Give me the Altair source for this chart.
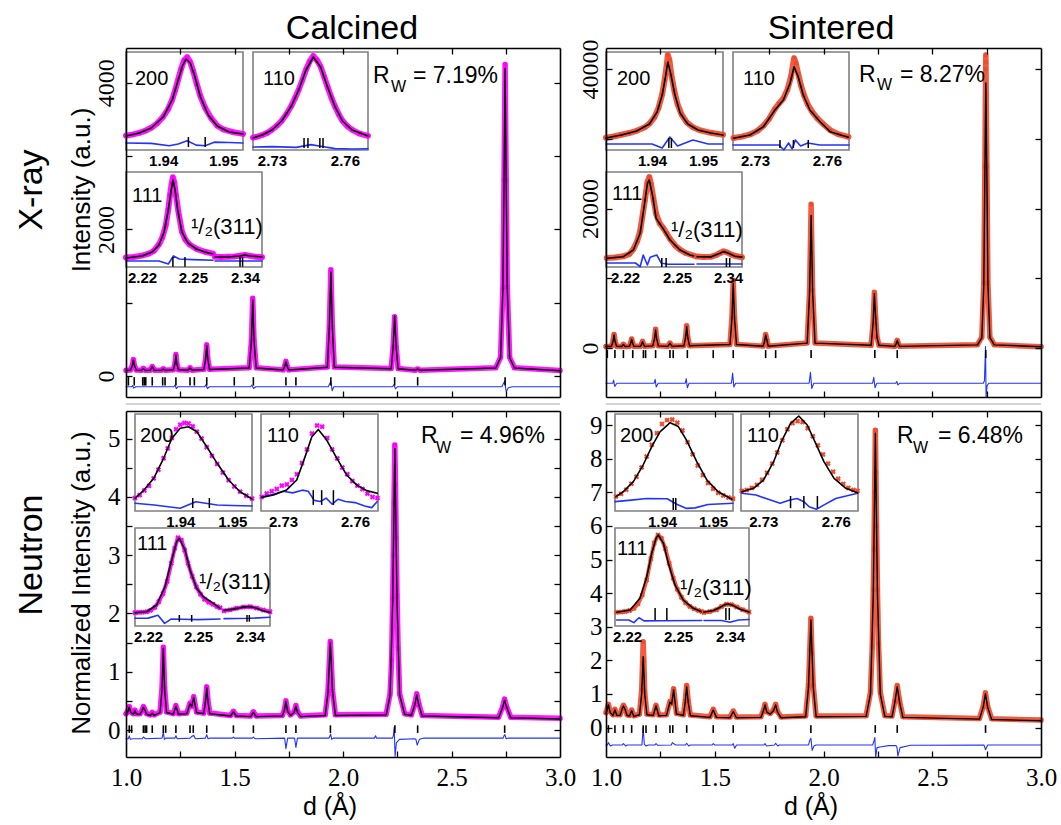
import altair as alt
import pandas as pd

W, H = 1061, 825
SANS = "Liberation Sans"
SERIF = "Liberation Serif"
MAGENTA = "#ff00ff"
ORANGE = "#f04a2c"
BLUE = "#2233ff"
FRAME_GREY = "#7f7f7f"

# ---------------------------------------------------------------------------
# Full refined patterns, pairs of (d in Angstrom, intensity)
# ---------------------------------------------------------------------------
XC_FIT = [(1.000,75),(1.020,80),(1.029,140),(1.034,218),(1.039,140),(1.048,80),(1.070,77),(1.080,100),(1.090,77),
          (1.111,78),(1.116,100),(1.121,127),(1.126,100),(1.131,78),(1.162,77),(1.172,95),(1.182,77),
          (1.218,85),(1.226,170),(1.230,286),(1.234,170),(1.242,85),(1.285,78),(1.295,109),(1.305,78),
          (1.359,90),(1.367,230),(1.372,414),(1.377,230),(1.385,90),(1.568,110),(1.578,480),(1.584,1037),
          (1.590,480),(1.600,110),(1.724,82),(1.731,130),(1.737,196),(1.743,130),(1.750,82),(1.928,120),
          (1.937,660),(1.944,1420),(1.951,660),(1.960,120),(2.222,100),(2.231,390),(2.238,820),(2.245,390),
          (2.254,100),(2.332,78),(2.344,95),(2.356,78),(2.704,110),(2.726,250),(2.737,1200),(2.742,2650),
          (2.747,4200),(2.752,2650),(2.757,1200),(2.768,250),(2.790,110),(3.000,72)]
XC_OBS = [(1.000,78),(1.020,82),(1.029,142),(1.034,225),(1.039,142),(1.048,82),(1.070,78),(1.080,104),(1.090,78),
          (1.111,80),(1.116,102),(1.121,130),(1.126,102),(1.131,80),(1.162,78),(1.172,98),(1.182,78),
          (1.218,86),(1.226,172),(1.230,295),(1.234,172),(1.242,86),(1.285,80),(1.295,112),(1.305,80),
          (1.359,92),(1.367,232),(1.372,425),(1.377,232),(1.385,92),(1.568,112),(1.578,485),(1.584,1060),
          (1.590,485),(1.600,112),(1.724,84),(1.731,132),(1.737,200),(1.743,132),(1.750,84),(1.928,122),
          (1.937,665),(1.944,1450),(1.951,665),(1.960,122),(2.222,102),(2.231,395),(2.238,810),(2.245,395),
          (2.254,102),(2.332,80),(2.344,97),(2.356,80),(2.704,112),(2.726,255),(2.737,1210),(2.742,2670),
          (2.747,4250),(2.752,2670),(2.757,1210),(2.768,255),(2.790,112),(3.000,74)]
XC_DIFF = [(1.000,-146),(1.026,-146),(1.030,-130),(1.036,-165),(1.045,-146),(1.220,-146),(1.226,-125),
           (1.232,-170),(1.240,-146),(1.362,-146),(1.368,-120),(1.375,-170),(1.385,-146),(1.574,-146),
           (1.580,-125),(1.588,-170),(1.598,-146),(1.932,-146),(1.938,-110),(1.944,-75),(1.950,-200),
           (1.958,-146),(2.228,-146),(2.234,-120),(2.242,-175),(2.250,-146),(2.732,-146),(2.738,-110),
           (2.745,-70),(2.752,-215),(2.762,-160),(2.780,-146),(3.000,-146)]
XC_REFL = [1.011, 1.038, 1.077, 1.084, 1.091, 1.121, 1.169, 1.180, 1.230, 1.295, 1.315, 1.372, 1.499,
           1.587, 1.737, 1.783, 1.944, 2.238, 2.344, 2.747]

XS_FIT = [(1.000,210),(1.025,250),(1.032,900),(1.037,1860),(1.042,900),(1.049,250),(1.072,220),(1.080,500),
          (1.088,220),(1.108,250),(1.113,650),(1.118,1243),(1.123,650),(1.128,250),(1.158,240),(1.163,500),
          (1.168,908),(1.173,500),(1.178,240),(1.215,300),(1.223,1300),(1.228,2580),(1.233,1300),(1.241,300),
          (1.284,230),(1.294,670),(1.304,230),(1.358,320),(1.366,1500),(1.371,3060),(1.376,1500),(1.384,320),
          (1.570,500),(1.579,4200),(1.585,9270),(1.591,4200),(1.600,500),(1.722,260),(1.729,900),(1.734,1860),
          (1.740,1100),(1.746,260),(1.925,700),(1.936,8000),(1.9431,19000),(1.950,8000),(1.961,700),
          (2.219,400),(2.228,3500),(2.234,7800),(2.240,4200),(2.246,1500),(2.255,400),(2.328,240),(2.334,600),
          (2.339,1050),(2.344,600),(2.350,240),(2.708,450),(2.728,1500),(2.737,9000),(2.742,25000),
          (2.7463,38000),(2.751,25000),(2.756,9000),(2.765,1500),(2.785,450),(3.000,180)]
XS_OBS = [(1.000,215),(1.025,260),(1.032,930),(1.037,1950),(1.042,930),(1.049,260),(1.072,230),(1.080,520),
          (1.088,230),(1.108,260),(1.113,670),(1.118,1300),(1.123,670),(1.128,260),(1.158,250),(1.163,520),
          (1.168,950),(1.173,520),(1.178,250),(1.215,310),(1.223,1330),(1.228,2700),(1.233,1330),(1.241,310),
          (1.284,240),(1.294,700),(1.304,240),(1.358,330),(1.366,1540),(1.371,3200),(1.376,1540),(1.384,330),
          (1.570,520),(1.579,4300),(1.585,9700),(1.591,4300),(1.600,520),(1.722,270),(1.729,930),(1.734,1950),
          (1.740,1130),(1.746,270),(1.925,720),(1.936,8200),(1.9431,20600),(1.950,8200),(1.961,720),
          (2.219,410),(2.228,3600),(2.234,8000),(2.240,4300),(2.246,1550),(2.255,410),(2.328,250),(2.334,620),
          (2.339,1090),(2.344,620),(2.350,250),(2.708,470),(2.728,1550),(2.737,9300),(2.742,26000),
          (2.7455,40000),(2.7463,42000),(2.7470,41000),(2.751,26000),(2.756,9300),(2.765,1550),(2.785,470),
          (3.000,185)]
XS_DIFF = [(1.000,-5060),(1.031,-5060),(1.035,-4600),(1.040,-5500),(1.050,-5060),(1.221,-5060),(1.226,-4500),
           (1.231,-5600),(1.240,-5060),(1.364,-5060),(1.369,-4400),(1.374,-5700),(1.382,-5060),(1.577,-5060),
           (1.582,-3600),(1.588,-5600),(1.596,-5060),(1.934,-5060),(1.940,-3500),(1.946,-5800),(1.955,-5060),
           (2.226,-5060),(2.231,-4200),(2.237,-5700),(2.245,-5060),(2.332,-5060),(2.337,-4800),(2.342,-5300),
           (2.350,-5060),(2.735,-5060),(2.740,-4700),(2.745,200),(2.7475,-7000),(2.752,-5400),(2.760,-5060),
           (3.000,-5060)]
XS_REFL = [1.006, 1.041, 1.080, 1.123, 1.172, 1.182, 1.228, 1.294, 1.309, 1.374, 1.493, 1.585, 1.734,
           1.780, 1.943, 2.236, 2.339, 2.746]

NC_FIT = [(1.000,0.27),(1.007,0.30),(1.015,0.39),(1.022,0.30),(1.034,0.27),(1.041,0.33),(1.048,0.27),
          (1.065,0.27),(1.074,0.33),(1.080,0.39),(1.086,0.35),(1.095,0.27),(1.112,0.25),(1.121,0.29),
          (1.130,0.25),(1.157,0.30),(1.166,0.70),(1.172,1.40),(1.178,0.70),(1.187,0.30),(1.218,0.27),
          (1.230,0.41),(1.242,0.27),(1.280,0.28),(1.295,0.45),(1.303,0.40),(1.312,0.56),(1.325,0.30),
          (1.358,0.28),(1.366,0.48),(1.372,0.72),(1.378,0.48),(1.386,0.28),(1.482,0.24),(1.495,0.31),
          (1.508,0.24),(1.574,0.23),(1.587,0.30),(1.600,0.23),(1.720,0.24),(1.730,0.34),(1.737,0.49),
          (1.745,0.32),(1.758,0.25),(1.775,0.30),(1.783,0.41),(1.791,0.30),(1.805,0.23),(1.918,0.25),
          (1.931,0.65),(1.9415,1.50),(1.952,0.65),(1.965,0.25),(2.199,0.26),(2.217,0.60),(2.229,2.20),
          (2.2388,4.83),(2.249,2.20),(2.261,0.60),(2.284,0.27),(2.315,0.25),(2.330,0.42),(2.340,0.60),
          (2.350,0.42),(2.365,0.24),(2.717,0.21),(2.735,0.38),(2.7447,0.51),(2.755,0.38),(2.773,0.21),
          (3.000,0.19)]
NC_OBS = [(1.000,0.28),(1.007,0.31),(1.015,0.40),(1.022,0.31),(1.034,0.28),(1.041,0.34),(1.048,0.28),
          (1.065,0.28),(1.074,0.34),(1.080,0.40),(1.086,0.36),(1.095,0.28),(1.112,0.26),(1.121,0.30),
          (1.130,0.26),(1.157,0.31),(1.166,0.72),(1.172,1.42),(1.178,0.72),(1.187,0.31),(1.218,0.28),
          (1.230,0.42),(1.242,0.28),(1.280,0.29),(1.295,0.46),(1.303,0.41),(1.312,0.57),(1.325,0.31),
          (1.358,0.29),(1.366,0.50),(1.372,0.74),(1.378,0.50),(1.386,0.29),(1.482,0.25),(1.495,0.32),
          (1.508,0.25),(1.574,0.24),(1.587,0.31),(1.600,0.24),(1.720,0.25),(1.730,0.35),(1.737,0.50),
          (1.745,0.33),(1.758,0.26),(1.775,0.31),(1.783,0.42),(1.791,0.31),(1.805,0.24),(1.918,0.26),
          (1.931,0.67),(1.9415,1.52),(1.952,0.67),(1.965,0.26),(2.199,0.27),(2.217,0.62),(2.224,1.20),
          (2.229,2.25),(2.232,3.00),(2.235,3.90),(2.2388,4.89),(2.242,4.20),(2.245,3.30),(2.249,2.30),
          (2.254,1.40),(2.261,0.62),(2.284,0.28),(2.315,0.26),(2.330,0.44),(2.340,0.62),(2.350,0.44),
          (2.365,0.25),(2.717,0.22),(2.735,0.39),(2.7447,0.53),(2.755,0.39),(2.773,0.22),(3.000,0.20)]
NC_DIFF = [(1.000,-0.15),(1.011,-0.15),(1.015,-0.10),(1.020,-0.16),(1.030,-0.15),(1.075,-0.15),(1.080,-0.12),
           (1.090,-0.15),(1.166,-0.14),(1.172,-0.04),(1.177,-0.16),(1.184,-0.14),(1.225,-0.14),(1.230,-0.10),
           (1.236,-0.15),(1.295,-0.14),(1.300,-0.12),(1.312,-0.09),(1.320,-0.15),(1.366,-0.14),(1.372,-0.08),
           (1.378,-0.15),(1.385,-0.14),(1.490,-0.14),(1.495,-0.12),(1.500,-0.14),(1.582,-0.14),(1.587,-0.12),
           (1.594,-0.15),(1.731,-0.14),(1.737,-0.32),(1.745,-0.14),(1.777,-0.14),(1.783,-0.30),(1.790,-0.14),
           (1.935,-0.14),(1.940,-0.10),(1.943,-0.07),(1.948,-0.16),(1.955,-0.14),(2.145,-0.14),(2.150,-0.10),
           (2.155,-0.14),(2.228,-0.14),(2.232,-0.10),(2.236,0.05),(2.240,-0.45),(2.246,-0.22),(2.260,-0.16),
           (2.330,-0.15),(2.336,-0.16),(2.342,-0.26),(2.352,-0.16),(2.370,-0.14),(2.738,-0.14),(2.742,-0.10),
           (2.746,-0.08),(2.752,-0.15),(2.760,-0.14),(3.000,-0.14)]
NC_REFL = [1.015, 1.026, 1.080, 1.088, 1.095, 1.121, 1.172, 1.183, 1.230, 1.295, 1.310, 1.372, 1.495,
           1.587, 1.737, 1.783, 1.942, 2.239, 2.344, 2.745]

NS_FIT = [(1.000,0.42),(1.004,0.50),(1.011,0.67),(1.019,0.45),(1.032,0.36),(1.041,0.52),(1.050,0.36),
          (1.065,0.36),(1.074,0.55),(1.080,0.64),(1.087,0.55),(1.097,0.36),(1.108,0.34),(1.118,0.50),
          (1.128,0.33),(1.154,0.38),(1.164,1.00),(1.171,2.11),(1.178,1.00),(1.188,0.38),(1.217,0.36),
          (1.230,0.64),(1.243,0.35),(1.278,0.36),(1.294,0.75),(1.302,0.70),(1.311,1.12),(1.324,0.40),
          (1.356,0.36),(1.364,0.75),(1.371,1.21),(1.378,0.75),(1.388,0.35),(1.478,0.30),(1.493,0.52),
          (1.508,0.30),(1.570,0.29),(1.585,0.47),(1.600,0.29),(1.712,0.30),(1.723,0.48),(1.731,0.67),
          (1.740,0.45),(1.755,0.40),(1.770,0.50),(1.780,0.67),(1.789,0.45),(1.805,0.29),(1.918,0.32),
          (1.931,1.20),(1.942,3.20),(1.953,1.20),(1.966,0.32),(2.196,0.33),(2.216,1.00),(2.229,4.00),
          (2.2384,8.76),(2.248,4.00),(2.261,1.00),(2.282,0.33),(2.315,0.32),(2.328,0.75),(2.339,1.21),
          (2.350,0.75),(2.365,0.30),(2.717,0.25),(2.734,0.60),(2.7446,1.00),(2.755,0.60),(2.773,0.24),
          (3.000,0.20)]
NS_OBS = [(1.000,0.44),(1.004,0.52),(1.011,0.69),(1.019,0.47),(1.032,0.38),(1.041,0.54),(1.050,0.38),
          (1.065,0.38),(1.074,0.57),(1.080,0.66),(1.087,0.57),(1.097,0.38),(1.108,0.36),(1.118,0.52),
          (1.128,0.35),(1.154,0.40),(1.164,1.10),(1.168,1.90),(1.171,2.55),(1.174,2.00),(1.178,1.05),
          (1.188,0.40),(1.217,0.38),(1.230,0.66),(1.243,0.37),(1.278,0.38),(1.294,0.77),(1.302,0.72),
          (1.311,1.15),(1.324,0.42),(1.356,0.38),(1.364,0.78),(1.371,1.25),(1.378,0.78),(1.388,0.37),
          (1.478,0.32),(1.493,0.54),(1.508,0.32),(1.570,0.31),(1.585,0.49),(1.600,0.31),(1.712,0.32),
          (1.723,0.50),(1.731,0.69),(1.740,0.47),(1.755,0.42),(1.770,0.52),(1.780,0.69),(1.789,0.47),
          (1.805,0.31),(1.918,0.34),(1.931,1.25),(1.937,2.30),(1.942,3.25),(1.947,2.20),(1.953,1.25),
          (1.966,0.34),(2.196,0.35),(2.216,1.05),(2.224,2.40),(2.229,4.10),(2.232,5.30),(2.235,7.00),
          (2.2384,8.85),(2.241,7.60),(2.244,6.00),(2.248,4.10),(2.253,2.50),(2.261,1.05),(2.282,0.35),
          (2.315,0.34),(2.328,0.78),(2.339,1.25),(2.350,0.78),(2.365,0.32),(2.717,0.27),(2.734,0.62),
          (2.7446,1.03),(2.755,0.62),(2.773,0.26),(3.000,0.22)]
NS_DIFF = [(1.000,-0.52),(1.006,-0.52),(1.011,-0.45),(1.020,-0.55),(1.030,-0.52),(1.075,-0.52),(1.080,-0.48),
           (1.090,-0.55),(1.098,-0.52),(1.165,-0.52),(1.171,0.00),(1.176,-0.50),(1.185,-0.55),(1.195,-0.52),
           (1.225,-0.52),(1.230,-0.48),(1.238,-0.53),(1.300,-0.52),(1.305,-0.45),(1.315,-0.50),(1.322,-0.52),
           (1.366,-0.52),(1.371,-0.47),(1.380,-0.55),(1.388,-0.52),(1.488,-0.52),(1.493,-0.48),(1.500,-0.52),
           (1.580,-0.52),(1.585,-0.48),(1.592,-0.62),(1.600,-0.52),(1.726,-0.52),(1.731,-0.48),(1.738,-0.55),
           (1.775,-0.52),(1.780,-0.47),(1.790,-0.55),(1.797,-0.52),(1.931,-0.52),(1.936,-0.40),(1.942,-0.32),
           (1.948,-0.68),(1.956,-0.55),(1.965,-0.52),(2.226,-0.52),(2.232,-0.40),(2.236,-0.30),(2.240,-0.88),
           (2.246,-0.60),(2.260,-0.58),(2.300,-0.54),(2.334,-0.54),(2.338,-0.60),(2.342,-0.85),(2.352,-0.60),
           (2.400,-0.53),(2.738,-0.52),(2.745,-0.66),(2.755,-0.52),(3.000,-0.52)]
NS_REFL = [1.011, 1.041, 1.080, 1.118, 1.171, 1.184, 1.230, 1.294, 1.307, 1.371, 1.493, 1.585, 1.734,
           1.780, 1.942, 2.238, 2.339, 2.745]

# ---------------------------------------------------------------------------
# Zoomed peak profiles: 200, 110, 111 and the 1/2(311) superlattice peak
# ---------------------------------------------------------------------------
XC200_FIT = [(1.9338,133),(1.9360,183),(1.9380,267),(1.9400,450),(1.9415,735),(1.9425,1069),(1.9432,1303),
             (1.9438,1420),(1.9445,1353),(1.9452,1152),(1.9462,785),(1.9475,484),(1.9490,300),(1.9510,200),
             (1.9533,166)]
XC200_OBS = [(1.9338,138),(1.9350,160),(1.9360,185),(1.9370,220),(1.9380,270),(1.9390,345),(1.9400,455),
             (1.9408,580),(1.9415,740),(1.9420,900),(1.9425,1080),(1.9430,1260),(1.9435,1400),(1.9440,1450),
             (1.9445,1370),(1.9450,1220),(1.9456,1000),(1.9462,800),(1.9470,600),(1.9480,430),(1.9490,305),
             (1.9500,245),(1.9515,200),(1.9533,168)]
XC200_DIFF = [(1.9338,16),(1.9380,10),(1.9410,-30),(1.9425,0),(1.9440,55),(1.9455,-20),(1.9470,-30),
              (1.9485,30),(1.9510,25),(1.9533,16)]
XC110_FIT = [(2.7222,150),(2.7260,300),(2.7300,550),(2.7340,1000),(2.7380,1750),(2.7410,2550),(2.7440,3550),
             (2.7470,4200),(2.7500,3700),(2.7530,2650),(2.7560,1700),(2.7590,1000),(2.7630,550),(2.7695,250)]
XC110_OBS = [(2.7222,170),(2.7240,220),(2.7260,300),(2.7280,400),(2.7300,560),(2.7320,760),(2.7340,1010),
             (2.7360,1350),(2.7380,1760),(2.7395,2150),(2.7410,2560),(2.7425,3050),(2.7440,3560),(2.7455,3980),
             (2.7470,4250),(2.7485,4050),(2.7500,3720),(2.7515,3200),(2.7530,2660),(2.7545,2150),(2.7560,1710),
             (2.7575,1330),(2.7590,1010),(2.7610,740),(2.7630,560),(2.7660,370),(2.7695,260)]
XC110_DIFF = [(2.7222,-300),(2.7300,-280),(2.7400,-320),(2.7460,-180),(2.7500,-260),(2.7560,-380),
              (2.7630,-400),(2.7695,-390)]
XC111_FIT = [(2.2106,100),(2.2200,119),(2.2260,155),(2.2300,220),(2.2330,340),(2.2355,543),(2.2370,709),
             (2.2382,820),(2.2395,728),(2.2410,543),(2.2435,340),(2.2470,239),(2.2520,183),(2.2570,155),
             (2.2618,137)]
XC111_OBS = [(2.2106,105),(2.2150,110),(2.2200,122),(2.2240,140),(2.2270,165),(2.2300,225),(2.2320,290),
             (2.2340,400),(2.2355,550),(2.2365,680),(2.2375,790),(2.2382,845),(2.2390,800),(2.2400,680),
             (2.2415,520),(2.2435,345),(2.2455,270),(2.2480,225),(2.2520,185),(2.2570,158),(2.2618,140)]
XC111_DIFF = [(2.2106,72),(2.2300,72),(2.2355,45),(2.2385,119),(2.2420,91),(2.2500,85),(2.2618,80)]
XC311_FIT = [(2.3224,109),(2.3300,109),(2.3370,119),(2.3400,128),(2.3430,119),(2.3500,109)]
XC311_OBS = [(2.3224,112),(2.3260,110),(2.3300,111),(2.3340,115),(2.3370,121),(2.3400,127),(2.3430,120),
             (2.3465,112),(2.3500,108)]
XC311_DIFF = [(2.3224,72),(2.3500,72)]

XS200_FIT = [(1.9310,1500),(1.9340,2190),(1.9370,3110),(1.9395,4720),(1.9410,7480),(1.9420,11390),
             (1.9427,15990),(1.9431,18980),(1.9436,16680),(1.9445,11390),(1.9455,7250),(1.9470,4720),
             (1.9490,3340),(1.9515,2650),(1.9539,2190)]
XS200_OBS = [(1.9310,1550),(1.9325,1850),(1.9340,2250),(1.9355,2650),(1.9370,3150),(1.9385,3900),(1.9395,4800),
             (1.9405,6300),(1.9413,8500),(1.9420,11600),(1.9425,15000),(1.9429,18500),(1.9431,20600),
             (1.9434,19500),(1.9438,16000),(1.9444,12200),(1.9450,9300),(1.9458,6900),(1.9468,5100),
             (1.9480,4000),(1.9495,3250),(1.9515,2700),(1.9539,2250)]
XS200_DIFF = [(1.9310,120),(1.9400,120),(1.9420,-800),(1.9435,1730),(1.9450,-340),(1.9480,1040),
              (1.9510,120),(1.9539,120)]
XS110_FIT = [(2.7210,1848),(2.7279,3520),(2.7335,7730),(2.7383,16200),(2.7418,21270),(2.7446,29730),
             (2.7463,38150),(2.7480,33080),(2.7501,23800),(2.7529,16200),(2.7571,10260),(2.7613,5200),
             (2.7689,2360)]
XS110_OBS = [(2.7210,2000),(2.7245,2700),(2.7279,3800),(2.7310,5600),(2.7335,8200),(2.7360,12000),
             (2.7383,16800),(2.7400,19500),(2.7418,22000),(2.7435,26500),(2.7450,33000),(2.7463,42500),
             (2.7470,40000),(2.7480,34500),(2.7492,28500),(2.7505,23500),(2.7520,19000),(2.7540,15000),
             (2.7560,12000),(2.7585,9000),(2.7613,6000),(2.7650,3800),(2.7690,2600)]
XS110_DIFF = [(2.7208,-1550),(2.7400,-1550),(2.7420,-4084),(2.7440,-535),(2.7455,-3580),(2.7468,986),
              (2.7490,-2060),(2.7520,-535),(2.7570,-1550),(2.7692,-1550)]
XS111_FIT = [(2.2094,774),(2.2190,917),(2.2248,1517),(2.2287,3011),(2.2310,5393),(2.2329,7486),(2.2340,7782),
             (2.2360,6287),(2.2379,4354),(2.2412,3602),(2.2460,2412),(2.2517,1517),(2.2575,1069),(2.2598,980)]
XS111_OBS = [(2.2094,800),(2.2140,850),(2.2190,950),(2.2225,1150),(2.2248,1600),(2.2270,2300),(2.2287,3200),
             (2.2300,4500),(2.2315,6000),(2.2329,7600),(2.2340,8050),(2.2350,7400),(2.2365,6000),(2.2380,4700),
             (2.2400,3900),(2.2420,3500),(2.2440,3000),(2.2460,2500),(2.2490,1900),(2.2517,1550),(2.2550,1250),
             (2.2598,1000)]
XS111_DIFF = [(2.2094,353),(2.2260,353),(2.2287,22),(2.2305,1069),(2.2329,174),(2.2345,863),(2.2383,1069),
              (2.2410,326),(2.2450,237),(2.2598,237)]
XS311_FIT = [(2.3221,917),(2.3300,900),(2.3350,1200),(2.3375,1370),(2.3400,1250),(2.3440,950),(2.3481,880)]
XS311_OBS = [(2.3221,930),(2.3260,900),(2.3300,910),(2.3330,1050),(2.3355,1250),(2.3375,1400),(2.3395,1300),
             (2.3420,1100),(2.3450,950),(2.3481,870)]
XS311_DIFF = [(2.3221,264),(2.3481,264)]

NC200_FIT = [(1.9313,0.255),(1.9329,0.387),(1.9349,0.601),(1.9368,0.948),(1.9384,1.294),(1.9400,1.467),
             (1.9416,1.495),(1.9432,1.408),(1.9451,1.148),(1.9471,0.861),(1.9493,0.572),(1.9515,0.369),
             (1.9538,0.243)]
NC200_OBS = [(1.9313,0.26),(1.9322,0.31),(1.9331,0.39),(1.9340,0.47),(1.9349,0.60),(1.9358,0.75),(1.9368,0.95),
             (1.9376,1.12),(1.9384,1.30),(1.9392,1.45),(1.9400,1.53),(1.9408,1.56),(1.9416,1.55),(1.9424,1.50),
             (1.9432,1.41),(1.9441,1.29),(1.9451,1.14),(1.9461,0.99),(1.9471,0.85),(1.9482,0.70),(1.9493,0.57),
             (1.9504,0.46),(1.9515,0.37),(1.9527,0.30),(1.9538,0.25)]
NC200_DIFF = [(1.9313,0.168),(1.9350,0.140),(1.9400,0.082),(1.9430,0.196),(1.9471,0.139),(1.9500,0.130),
              (1.9538,0.122)]
NC110_FIT = [(2.7211,0.208),(2.7260,0.219),(2.7315,0.241),(2.7357,0.285),(2.7392,0.388),(2.7420,0.476),
             (2.7447,0.508),(2.7482,0.461),(2.7524,0.381),(2.7565,0.307),(2.7607,0.263),(2.7649,0.238),
             (2.7693,0.226)]
NC110_OBS = [(2.7211,0.210),(2.7232,0.225),(2.7253,0.235),(2.7274,0.245),(2.7295,0.260),(2.7316,0.265),
             (2.7337,0.285),(2.7358,0.310),(2.7379,0.360),(2.7400,0.420),(2.7421,0.490),(2.7442,0.525),
             (2.7463,0.520),(2.7484,0.470),(2.7505,0.420),(2.7526,0.380),(2.7547,0.340),(2.7568,0.310),
             (2.7589,0.280),(2.7610,0.260),(2.7631,0.245),(2.7652,0.225),(2.7673,0.210),(2.7694,0.205)]
NC110_DIFF = [(2.7211,0.210),(2.7260,0.222),(2.7300,0.235),(2.7340,0.228),(2.7380,0.240),(2.7405,0.235),
              (2.7430,0.195),(2.7455,0.190),(2.7480,0.205),(2.7505,0.178),(2.7530,0.200),(2.7560,0.190),
              (2.7600,0.185),(2.7640,0.170),(2.7670,0.163),(2.7693,0.190)]
NC111_FIT = [(2.2122,0.28),(2.2192,0.34),(2.2252,0.75),(2.2302,1.86),(2.2342,3.49),(2.2372,4.60),(2.2388,4.81),
             (2.2422,4.10),(2.2452,2.88),(2.2492,1.77),(2.2532,1.25),(2.2592,0.85),(2.2632,0.55)]
NC111_OBS = [(2.2122,0.28),(2.2145,0.30),(2.2168,0.31),(2.2192,0.34),(2.2215,0.42),(2.2240,0.60),(2.2265,0.95),
             (2.2290,1.45),(2.2315,2.20),(2.2340,3.30),(2.2360,4.20),(2.2380,4.85),(2.2400,4.70),(2.2420,4.10),
             (2.2440,3.30),(2.2465,2.50),(2.2490,1.85),(2.2515,1.40),(2.2540,1.10),(2.2565,0.92),(2.2590,0.80),
             (2.2615,0.65),(2.2632,0.58)]
NC111_DIFF = [(2.2122,-0.06),(2.2200,-0.05),(2.2260,0.12),(2.2300,-0.37),(2.2340,-0.10),(2.2400,-0.12),
              (2.2500,-0.14),(2.2632,-0.10)]
NC311_FIT = [(2.3244,0.42),(2.3300,0.50),(2.3360,0.62),(2.3400,0.66),(2.3440,0.55),(2.3480,0.40),(2.3520,0.30)]
NC311_OBS = [(2.3244,0.40),(2.3280,0.45),(2.3320,0.55),(2.3360,0.62),(2.3400,0.64),(2.3440,0.56),(2.3480,0.44),
             (2.3520,0.34)]
NC311_DIFF = [(2.3244,-0.08),(2.3400,-0.06),(2.3520,0.00)]

NS200_FIT = [(1.9310,0.35),(1.9324,0.54),(1.9344,0.93),(1.9363,1.57),(1.9380,2.28),(1.9396,2.85),(1.9416,3.20),
             (1.9432,3.05),(1.9448,2.53),(1.9468,1.70),(1.9488,0.99),(1.9510,0.54),(1.9537,0.25)]
NS200_OBS = [(1.9310,0.36),(1.9320,0.46),(1.9330,0.62),(1.9340,0.85),(1.9350,1.12),(1.9360,1.48),(1.9370,1.90),
             (1.9380,2.35),(1.9390,2.80),(1.9400,3.15),(1.9410,3.30),(1.9420,3.32),(1.9430,3.20),(1.9440,2.90),
             (1.9450,2.45),(1.9460,1.98),(1.9470,1.55),(1.9480,1.18),(1.9490,0.88),(1.9500,0.66),(1.9510,0.50),
             (1.9520,0.40),(1.9530,0.32),(1.9539,0.27)]
NS200_DIFF = [(1.9308,0.16),(1.9340,0.22),(1.9370,0.28),(1.9410,0.27),(1.9430,0.05),(1.9448,-0.10),
              (1.9465,-0.08),(1.9490,0.05),(1.9539,0.10)]
NS110_FIT = [(2.7211,0.252),(2.7260,0.286),(2.7301,0.368),(2.7343,0.549),(2.7378,0.763),(2.7413,0.928),
             (2.7447,1.000),(2.7482,0.911),(2.7517,0.730),(2.7551,0.549),(2.7593,0.385),(2.7642,0.286),
             (2.7690,0.243)]
NS110_OBS = [(2.7211,0.26),(2.7232,0.27),(2.7253,0.29),(2.7274,0.32),(2.7295,0.37),(2.7316,0.44),(2.7337,0.53),
             (2.7358,0.64),(2.7379,0.76),(2.7400,0.87),(2.7421,0.93),(2.7442,0.95),(2.7463,0.94),(2.7484,0.88),
             (2.7505,0.80),(2.7526,0.71),(2.7547,0.62),(2.7568,0.53),(2.7589,0.45),(2.7610,0.38),(2.7631,0.33),
             (2.7652,0.29),(2.7673,0.27),(2.7690,0.26)]
NS110_DIFF = [(2.7211,0.237),(2.7270,0.220),(2.7330,0.170),(2.7370,0.138),(2.7410,0.170),(2.7440,0.185),
              (2.7470,0.150),(2.7490,0.104),(2.7520,0.079),(2.7550,0.120),(2.7600,0.185),(2.7690,0.237)]
NS111_FIT = [(2.2139,0.43),(2.2218,0.67),(2.2276,1.94),(2.2316,4.26),(2.2345,6.79),(2.2371,8.40),(2.2384,8.76),
             (2.2414,7.86),(2.2443,5.71),(2.2482,3.37),(2.2531,1.75),(2.2590,0.86),(2.2639,0.49)]
NS111_OBS = [(2.2139,0.42),(2.2165,0.45),(2.2190,0.52),(2.2215,0.62),(2.2240,0.85),(2.2265,1.35),(2.2290,2.30),
             (2.2315,3.90),(2.2340,6.20),(2.2360,7.90),(2.2382,8.75),(2.2402,8.40),(2.2425,7.30),(2.2448,5.70),
             (2.2472,4.10),(2.2496,2.90),(2.2520,2.05),(2.2545,1.45),(2.2570,1.05),(2.2595,0.80),(2.2620,0.62),
             (2.2639,0.52)]
NS111_DIFF = [(2.2139,-0.40),(2.2210,-0.40),(2.2240,-0.69),(2.2270,-0.16),(2.2300,-0.50),(2.2400,-0.48),
              (2.2639,-0.45)]
NS311_FIT = [(2.3247,0.45),(2.3300,0.60),(2.3340,0.95),(2.3370,1.25),(2.3390,1.32),(2.3420,1.15),(2.3460,0.75),
             (2.3512,0.45)]
NS311_OBS = [(2.3247,0.40),(2.3280,0.50),(2.3320,0.70),(2.3350,1.05),(2.3380,1.30),(2.3410,1.25),(2.3440,1.00),
             (2.3475,0.70),(2.3512,0.45)]
NS311_DIFF = [(2.3247,-0.45),(2.3350,-0.45),(2.3400,-0.65),(2.3450,-0.40),(2.3512,-0.35)]

XTICKS = [1.25, 1.5, 1.75, 2.0, 2.25, 2.5, 2.75]
XLABELS = [1.0, 1.5, 2.0, 2.5, 3.0]

# ---------------------------------------------------------------------------
# Layout: pixel boxes of the four panels and of the zoom windows
# ---------------------------------------------------------------------------
def seg(xpx, xdom, ticks, fit, obs, diff, refl):
    return dict(xpx=xpx, xdom=xdom, ticks=ticks, fit=fit, obs=obs, diff=diff, refl=refl)

PANELS = [
    dict(xpx=(126, 560), ypx=(397, 48), ydom=(-286, 4475), color=MAGENTA, xray=True,
         fit=XC_FIT, obs=XC_OBS, diff=XC_DIFF, refl=XC_REFL, refl_y=(-15, -130),
         yticks=[0, 1000, 2000, 3000, 4000], ylabels=[0, 2000, 4000], labsize=24, labpad=8, xlabels=False,
         insets=[
             dict(box=((126, 243), (150, 52)), ydom=(-101, 1537), ry=(115, -50),
                  segs=[seg((126, 243), (1.9338, 1.9533), [1.94, 1.95], XC200_FIT, XC200_OBS, XC200_DIFF, [1.9442, 1.9470])]),
             dict(box=((253, 368), (150, 52)), ydom=(-450, 4450), ry=(150, -350),
                  segs=[seg((253, 368), (2.7222, 2.7695), [2.73, 2.76], XC110_FIT, XC110_OBS, XC110_DIFF,
                            [2.7432, 2.7448, 2.7497, 2.7510])]),
             dict(box=((126, 262), (267, 172)), ydom=(17, 894), ry=(110, 20),
                  segs=[seg((126, 213), (2.2106, 2.2618), [2.22, 2.25], XC111_FIT, XC111_OBS, XC111_DIFF, [2.2382, 2.2453]),
                        seg((215, 262), (2.3224, 2.3500), [2.34], XC311_FIT, XC311_OBS, XC311_DIFF, [2.3371, 2.3386])]),
         ]),
    dict(xpx=(606, 1041), ypx=(397, 48), ydom=(-7026, 43020), color=ORANGE, xray=True,
         fit=XS_FIT, obs=XS_OBS, diff=XS_DIFF, refl=XS_REFL, refl_y=(-300, -1450),
         yticks=[0, 10000, 20000, 30000, 40000], ylabels=[0, 20000, 40000], labsize=24, labpad=4, xlabels=False,
         insets=[
             dict(box=((606, 723), (150, 52)), ydom=(-1260, 21300), ry=(1500, -800),
                  segs=[seg((606, 723), (1.9310, 1.9539), [1.94, 1.95], XS200_FIT, XS200_OBS, XS200_DIFF, [1.9433, 1.9438])]),
             dict(box=((733, 849), (150, 52)), ydom=(-4084, 45600), ry=(986, -3070),
                  segs=[seg((733, 849), (2.7208, 2.7692), [2.73, 2.76], XS110_FIT, XS110_OBS, XS110_DIFF,
                            [2.7404, 2.7460, 2.7522])]),
             dict(box=((606, 742), (267, 172)), ydom=(-5, 8495), ry=(800, -5),
                  segs=[seg((606, 694), (2.2090, 2.2598), [2.22, 2.25], XS111_FIT, XS111_OBS, XS111_DIFF, [2.2412, 2.2437]),
                        seg((697, 742), (2.3221, 2.3481), [2.34], XS311_FIT, XS311_OBS, XS311_DIFF, [2.3391, 2.3410])]),
         ]),
    dict(xpx=(126, 560), ypx=(757, 411), ydom=(-0.463, 5.472), color=MAGENTA, xray=False,
         fit=NC_FIT, obs=NC_OBS, diff=NC_DIFF, refl=NC_REFL, refl_y=(0.08, -0.05),
         yticks=[0, 0.5, 1, 1.5, 2, 2.5, 3, 3.5, 4, 4.5, 5], ylabels=[0, 1, 2, 3, 4, 5], labsize=25, labpad=6,
         xlabels=True,
         insets=[
             dict(box=((135, 252), (511, 414)), ydom=(0.035, 1.715), ry=(0.26, 0.087),
                  segs=[seg((135, 252), (1.9313, 1.9538), [1.94, 1.95], NC200_FIT, NC200_OBS, NC200_DIFF, [1.9424, 1.9456])]),
             dict(box=((261, 378), (511, 414)), ydom=(0.148, 0.576), ry=(0.24, 0.175),
                  segs=[seg((261, 378), (2.7208, 2.7696), [2.73, 2.76], NC110_FIT, NC110_OBS, NC110_DIFF,
                            [2.7426, 2.7461, 2.7510])]),
             dict(box=((135, 270), (626, 528)), ydom=(-0.53, 5.44), ry=(0.14, -0.27),
                  segs=[seg((135, 220), (2.2122, 2.2632), [2.22, 2.25], NC111_FIT, NC111_OBS, NC111_DIFF, [2.2388, 2.2462]),
                        seg((224, 270), (2.3244, 2.3520), [2.34], NC311_FIT, NC311_OBS, NC311_DIFF, [2.3382, 2.3396])]),
         ]),
    dict(xpx=(606, 1041), ypx=(757, 411), ydom=(-0.878, 9.42), color=ORANGE, xray=False,
         fit=NS_FIT, obs=NS_OBS, diff=NS_DIFF, refl=NS_REFL, refl_y=(0.07, -0.16),
         yticks=[0, 1, 2, 3, 4, 5, 6, 7, 8, 9], ylabels=[0, 1, 2, 3, 4, 5, 6, 7, 8, 9], labsize=25, labpad=4,
         xlabels=True,
         insets=[
             dict(box=((615, 733), (511, 414)), ydom=(-0.20, 3.535), ry=(0.30, -0.16),
                  segs=[seg((615, 733), (1.9308, 1.9539), [1.94, 1.95], NS200_FIT, NS200_OBS, NS200_DIFF, [1.9422, 1.9427])]),
             dict(box=((741, 858), (511, 414)), ydom=(0.062, 1.02), ry=(0.21, 0.09),
                  segs=[seg((741, 858), (2.7208, 2.7692), [2.73, 2.76], NS110_FIT, NS110_OBS, NS110_DIFF,
                            [2.7413, 2.7468, 2.7524])]),
             dict(box=((615, 749), (626, 528)), ydom=(-1.05, 9.51), ry=(0.89, -0.40),
                  segs=[seg((615, 702), (2.2129, 2.2641), [2.22, 2.25], NS111_FIT, NS111_OBS, NS111_DIFF, [2.2365, 2.2434]),
                        seg((704, 749), (2.3247, 2.3512), [2.34], NS311_FIT, NS311_OBS, NS311_DIFF, [2.3376, 2.3396])]),
         ]),
]

HALF_311 = "\u00b9/\u2082(311)"

# text, x, y, size, angle, align, baseline
TEXTS = [
    ("Calcined", 352, 39, 34, 0, "center", "alphabetic"),
    ("Sintered", 831, 39, 34, 0, "center", "alphabetic"),
    ("X-ray", 32, 190, 34, 270, "center", "middle"),
    ("Neutron", 32, 555, 34, 270, "center", "middle"),
    ("Intensity (a.u.)", 82, 190, 26, 270, "center", "middle"),
    ("Normalized Intensity (a.u.)", 82, 583, 26, 270, "center", "middle"),
    ("d (\u00c5)", 330, 815, 25, 0, "center", "alphabetic"),
    ("d (\u00c5)", 811, 815, 25, 0, "center", "alphabetic"),
    # weighted profile R factors
    ("R", 373, 83, 23, 0, "left", "alphabetic"), ("W", 391, 92, 16, 0, "left", "alphabetic"),
    ("= 7.19%", 413, 83, 23, 0, "left", "alphabetic"),
    ("R", 859, 82, 23, 0, "left", "alphabetic"), ("W", 877, 90, 16, 0, "left", "alphabetic"),
    ("= 8.27%", 900, 82, 23, 0, "left", "alphabetic"),
    ("R", 421, 443, 23, 0, "left", "alphabetic"), ("W", 436, 453, 16, 0, "left", "alphabetic"),
    ("= 4.96%", 460, 443, 23, 0, "left", "alphabetic"),
    ("R", 897, 443, 23, 0, "left", "alphabetic"), ("W", 913, 453, 16, 0, "left", "alphabetic"),
    ("= 6.48%", 938, 443, 23, 0, "left", "alphabetic"),
    # reflection labels inside the zoom windows
    ("200", 135, 85, 20, 0, "left", "alphabetic"), ("110", 263, 85, 20, 0, "left", "alphabetic"),
    ("111", 132, 202, 20, 0, "left", "alphabetic"), (HALF_311, 191, 234, 22, 0, "left", "alphabetic"),
    ("200", 617, 85, 20, 0, "left", "alphabetic"), ("110", 743, 85, 20, 0, "left", "alphabetic"),
    ("111", 612, 200, 20, 0, "left", "alphabetic"), (HALF_311, 671, 237, 22, 0, "left", "alphabetic"),
    ("200", 140, 442, 20, 0, "left", "alphabetic"), ("110", 267, 442, 20, 0, "left", "alphabetic"),
    ("111", 137, 550, 20, 0, "left", "alphabetic"), (HALF_311, 199, 589, 22, 0, "left", "alphabetic"),
    ("200", 620, 442, 20, 0, "left", "alphabetic"), ("110", 747, 442, 20, 0, "left", "alphabetic"),
    ("111", 617, 555, 20, 0, "left", "alphabetic"), (HALF_311, 680, 595, 22, 0, "left", "alphabetic"),
]


def frame_df(pairs):
    return pd.DataFrame(pairs, columns=["d", "v"])


def qscale(domain, rng):
    return alt.Scale(domain=list(domain), range=list(rng), zero=False, nice=False)


def line_layer(df, xsc, ysc, color, width, xaxis=None, yaxis=None, opacity=1.0):
    return alt.Chart(df).mark_line(color=color, strokeWidth=width, opacity=opacity,
                                   strokeJoin="round", strokeCap="round").encode(
        x=alt.X("d:Q", scale=xsc, axis=xaxis), y=alt.Y("v:Q", scale=ysc, axis=yaxis))


def cross_layer(df, xsc, ysc, color, size, xaxis=None, yaxis=None):
    return alt.Chart(df).mark_point(shape="cross", angle=45, filled=True, size=size, color=color,
                                    opacity=1).encode(
        x=alt.X("d:Q", scale=xsc, axis=xaxis), y=alt.Y("v:Q", scale=ysc, axis=yaxis))


def refl_layer(ds, y0, y1, xsc, ysc, width):
    df = pd.DataFrame({"d": ds, "y0": [y0] * len(ds), "y1": [y1] * len(ds)})
    return alt.Chart(df).mark_rule(color="black", strokeWidth=width).encode(
        x=alt.X("d:Q", scale=xsc, axis=None), y=alt.Y("y0:Q", scale=ysc, axis=None), y2="y1:Q")


def panel_layers(p):
    xl, xr = p["xpx"]
    yb, yt = p["ypx"]
    xsc = qscale((1.0, 3.0), p["xpx"])
    ysc = qscale(p["ydom"], p["ypx"])
    edge = dict(labels=False, grid=False, title=None, domainColor="black", domainWidth=1.6,
                tickColor="black", tickWidth=1.3, tickSize=6, zindex=2)
    ax_bottom = alt.Axis(orient="top", offset=-yb, values=XTICKS, **edge)
    ax_left = alt.Axis(orient="right", offset=xl - W, values=p["yticks"], **edge)
    ax_top = alt.Axis(orient="bottom", offset=yt - H, values=XTICKS, **edge)
    ax_right = alt.Axis(orient="left", offset=-xr, values=p["yticks"], **edge)
    ylab = dict(orient="left", offset=-xl, values=p["ylabels"], ticks=False, domain=False, grid=False,
                title=None, labelFont=SERIF, labelFontSize=p["labsize"], labelColor="black",
                labelPadding=p["labpad"], labelFlush=False, labelOverlap=False, format="d", zindex=2)
    if p["xray"]:
        ylab.update(labelAngle=270, labelAlign="center", labelBaseline="bottom")
    ax_ylab = alt.Axis(**ylab)
    ax_xlab = None
    if p["xlabels"]:
        ax_xlab = alt.Axis(orient="bottom", offset=yb - H, values=XLABELS, ticks=False, domain=False,
                           grid=False, title=None, labelFont=SERIF, labelFontSize=25, labelColor="black",
                           labelPadding=8, labelFlush=False, labelOverlap=False, format=".1f", zindex=2)
    fit, obs, diff = frame_df(p["fit"]), frame_df(p["obs"]), frame_df(p["diff"])
    return [
        line_layer(obs, xsc, ysc, p["color"], 5.5, ax_bottom, ax_left, opacity=0.9),
        cross_layer(obs, xsc, ysc, p["color"], 26, ax_top, ax_right),
        line_layer(diff, xsc, ysc, BLUE, 1.1),
        refl_layer(p["refl"], p["refl_y"][0], p["refl_y"][1], xsc, ysc, 1.6),
        line_layer(fit, xsc, ysc, "black", 1.4, ax_xlab, ax_ylab),
    ]


def inset_layers(ins, color, xray):
    (bx0, bx1), (by0, by1) = ins["box"]
    box = pd.DataFrame({"a": [0.0], "b": [1.0]})
    layers = [alt.Chart(box).mark_rect(fill="white", stroke=FRAME_GREY, strokeWidth=1.6).encode(
        x=alt.X("a:Q", scale=qscale((0, 1), (bx0, bx1)), axis=None), x2="b:Q",
        y=alt.Y("a:Q", scale=qscale((0, 1), (by0, by1)), axis=None), y2="b:Q")]
    two_part = len(ins["segs"]) > 1
    for s in ins["segs"]:
        xsc = qscale(s["xdom"], s["xpx"])
        ysc = qscale(ins["ydom"], (by0, by1))
        lab = alt.Axis(orient="bottom", offset=by0 - H, values=s["ticks"], ticks=False, domain=False,
                       grid=False, title=None, labelFont=SANS, labelFontWeight="bold", labelFontSize=15,
                       labelColor="black", labelPadding=3, labelFlush=False, labelOverlap=False,
                       format=".2f", zindex=1)
        obs, fit, diff = frame_df(s["obs"]), frame_df(s["fit"]), frame_df(s["diff"])
        if xray:
            layers.append(line_layer(obs, xsc, ysc, color, 6, opacity=0.9))
            layers.append(cross_layer(obs, xsc, ysc, color, 26))
        else:
            if two_part:
                layers.append(line_layer(obs, xsc, ysc, color, 4, opacity=0.9))
            layers.append(cross_layer(obs, xsc, ysc, color, 30))
        layers.append(line_layer(diff, xsc, ysc, BLUE, 1.6))
        layers.append(refl_layer(s["refl"], ins["ry"][0], ins["ry"][1], xsc, ysc, 1.5))
        layers.append(line_layer(fit, xsc, ysc, "black", 1.6, lab, None))
    return layers


def text_layer(t):
    text, x, y, size, angle, align, baseline = t
    return alt.Chart(pd.DataFrame({"t": [text]})).mark_text(
        font=SANS, fontSize=size, angle=angle, align=align, baseline=baseline, color="black").encode(
        x=alt.value(x), y=alt.value(y), text="t:N")


layers = []
for p in PANELS:
    layers += panel_layers(p)
for p in PANELS:
    for ins in p["insets"]:
        layers += inset_layers(ins, p["color"], p["xray"])

# faint separator above the neutron row
for x0, x1 in [(126, 560), (606, 1041)]:
    layers.append(alt.Chart(pd.DataFrame({"k": [0]})).mark_rule(color="#d4d4d4", strokeWidth=2).encode(
        x=alt.value(x0), x2=alt.value(x1), y=alt.value(404)))

layers += [text_layer(t) for t in TEXTS]

chart = alt.layer(*layers).resolve_scale(x="independent", y="independent").properties(
    width=W, height=H, padding=0, background="white",
    autosize=alt.AutoSizeParams(type="none"),
).configure_view(stroke=None)

chart.save("out.html", embed_options={"renderer": "svg", "actions": False})
